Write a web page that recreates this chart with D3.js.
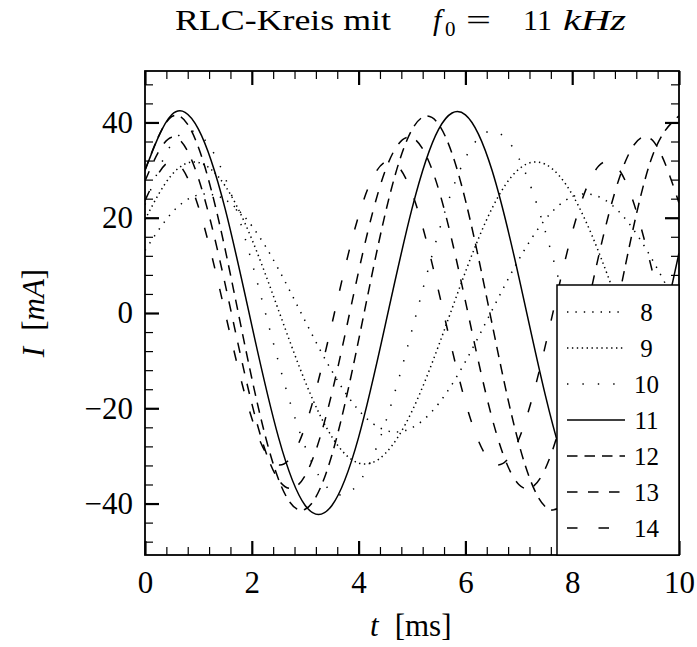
<!DOCTYPE html>
<html>
<head>
<meta charset="utf-8">
<script src="https://cdn.jsdelivr.net/npm/d3@7"></script>
<style>
  body { margin: 0; background: #fff; }
  text { font-family: "Liberation Serif", "DejaVu Serif", serif; fill: #000; }
</style>
</head>
<body>
<div id="chart"></div>
<script>
// time axis in ms, currents in mA
const tValues = [0, 0.5, 1, 1.5, 2, 2.5, 3, 3.5, 4, 4.5, 5, 5.5, 6, 6.5, 7, 7.5, 8, 8.5, 9, 9.5, 10];
const freqs = [8, 9, 10, 11, 12, 13, 14];

const current8 = [13.1, 21.0, 24.8, 23.8, 18.3, 9.2, -1.7, -12.2, -20.4, -24.6, -24.1, -19.0, -10.2, 0.6, 11.2, 19.7, 24.4, 24.4, 19.7, 11.2, 0.6];
const current9 = [19.6, 29.0, 31.6, 26.7, 15.5, 0.6, -14.4, -26.0, -31.5, -29.5, -20.6, -6.8, 8.6, 22.0, 30.2, 31.2, 24.9, 12.7, -2.5, -17.1, -27.7];
const current10 = [22.7, 35.5, 37.6, 28.4, 10.7, -10.3, -28.1, -37.5, -35.7, -23.1, -3.6, 17.0, 32.5, 38.2, 32.5, 17.0, -3.6, -23.1, -35.7, -37.5, -28.1];
const current11 = [29.9, 41.6, 38.6, 21.9, -2.6, -26.1, -40.4, -40.4, -26.1, -2.5, 21.9, 38.6, 41.6, 29.9, 7.6, -17.4, -36.2, -42.2, -33.3, -12.6, 12.6];
const current12 = [30.0, 41.2, 34.8, 13.4, -13.7, -34.9, -41.2, -29.8, -5.7, 20.9, 38.5, 39.6, 23.7, -2.3, -27.4, -40.7, -36.6, -16.8, 10.2, 32.9, 41.4];
const current13 = [27.7, 36.9, 28.3, 6.1, -19.0, -35.0, -34.1, -16.8, 8.7, 29.9, 36.8, 25.9, 2.5, -22.1, -36.0, -32.6, -13.4, 12.2, 31.9, 36.3, 23.1];
const current14 = [23.6, 31.9, 22.3, 0.1, -22.1, -31.9, -23.8, -2.3, 20.4, 31.7, 25.2, 4.5, -18.7, -31.4, -26.5, -6.7, 16.9, 30.9, 27.6, 8.8, -14.9];

const xTicks = [0, 2, 4, 6, 8, 10];
const yTicks = [-40, -20, 0, 20, 40];

// line styles (tikz: dotted, densely dotted, loosely dotted, solid, densely dashed, dashed, loosely dashed)
const dashes = {
  8: "1.4,7",
  9: "1.4,3.5",
  10: "1.4,14",
  11: null,
  12: "10.5,7",
  13: "10.5,10.5",
  14: "10.5,21"
};

const width = 697, height = 647;
const margin = { top: 71, right: 18, bottom: 92, left: 145 };

const svg = d3.select("#chart")
  .append("svg")
  .attr("width", width)
  .attr("height", height);

const x = d3.scaleLinear().domain([0, 10]).range([margin.left, width - margin.right]);
const y = d3.scaleLinear().domain([-50.8, 50.8]).range([height - margin.bottom, margin.top]);

svg.append("clipPath").attr("id", "plot")
  .append("rect")
  .attr("x", x(0)).attr("y", y(50.8))
  .attr("width", x(10) - x(0)).attr("height", y(-50.8) - y(50.8));

const series = [current8, current9, current10, current11, current12, current13, current14]
  .map((values, i) => ({ f: freqs[i], values: values }));

const line = d3.line()
  .x((d, i) => x(tValues[i]))
  .y(d => y(d))
  .curve(d3.curveNatural);

svg.append("g")
  .attr("clip-path", "url(#plot)")
  .selectAll("path")
  .data(series)
  .enter()
  .append("path")
  .attr("d", d => line(d.values))
  .attr("fill", "none")
  .attr("stroke", "#000")
  .attr("stroke-width", 1.5)
  .attr("stroke-dasharray", d => dashes[d.f]);

// ticks on all four sides, pointing inwards
const xMinor = d3.range(0, 26).filter(i => i % 5 !== 0).map(i => i * 0.4);
const yMinor = d3.range(-12, 13).filter(i => i % 5 !== 0).map(i => i * 4);

function tickGroup(axis, tx, ty, strokeW) {
  const g = svg.append("g")
    .attr("transform", `translate(${tx},${ty})`)
    .call(axis);
  g.select(".domain").remove();
  g.selectAll("line").attr("stroke", "#000").attr("stroke-width", strokeW);
  return g;
}

const bottomY = y(-50.8), topY = y(50.8), leftX = x(0), rightX = x(10);

tickGroup(d3.axisBottom(x).tickValues(xMinor).tickSize(-8).tickFormat(""), 0, bottomY, 1.2);
tickGroup(d3.axisTop(x).tickValues(xMinor).tickSize(-8).tickFormat(""), 0, topY, 1.2);
tickGroup(d3.axisLeft(y).tickValues(yMinor).tickSize(-8).tickFormat(""), leftX, 0, 1.2);
tickGroup(d3.axisRight(y).tickValues(yMinor).tickSize(-8).tickFormat(""), rightX, 0, 1.2);

const xAxis = tickGroup(d3.axisBottom(x).tickValues(xTicks).tickSize(-14).tickPadding(16).tickFormat(d3.format("d")), 0, bottomY, 2.2);
tickGroup(d3.axisTop(x).tickValues(xTicks).tickSize(-14).tickFormat(""), 0, topY, 2.2);
const yAxis = tickGroup(d3.axisLeft(y).tickValues(yTicks).tickSize(-14).tickPadding(12).tickFormat(d3.format("d")), leftX, 0, 2.2);
tickGroup(d3.axisRight(y).tickValues(yTicks).tickSize(-14).tickFormat(""), rightX, 0, 2.2);

xAxis.selectAll("text").attr("font-size", 31).attr("font-family", null);
yAxis.selectAll("text").attr("font-size", 31).attr("font-family", null);

svg.append("rect")
  .attr("x", leftX).attr("y", topY)
  .attr("width", rightX - leftX).attr("height", bottomY - topY)
  .attr("fill", "none")
  .attr("stroke", "#000")
  .attr("stroke-width", 1.8);

// legend box in the lower right corner
const legend = svg.append("g");
legend.append("rect")
  .attr("x", 557).attr("y", 285)
  .attr("width", rightX - 557).attr("height", bottomY - 285)
  .attr("fill", "#fff")
  .attr("stroke", "#000")
  .attr("stroke-width", 1.5);

const items = legend.selectAll("g.item")
  .data(series)
  .enter()
  .append("g")
  .attr("class", "item")
  .attr("transform", (d, i) => `translate(0,${312 + i * 36})`);

items.append("line")
  .attr("x1", 567).attr("x2", 625)
  .attr("stroke", "#000")
  .attr("stroke-width", 1.5)
  .attr("stroke-dasharray", d => dashes[d.f]);

items.append("text")
  .attr("x", 646.5)
  .attr("dy", "0.35em")
  .attr("text-anchor", "middle")
  .attr("font-size", 25)
  .text(d => d.f);

// title
const title = svg.append("g").attr("font-size", 30);
title.append("text").attr("x", 175).attr("y", 30)
  .attr("textLength", 216).attr("lengthAdjust", "spacingAndGlyphs")
  .text("RLC-Kreis mit");
title.append("text").attr("x", 433).attr("y", 30).attr("font-style", "italic").text("f");
title.append("text").attr("x", 445).attr("y", 36).attr("font-size", 21).text("0");
title.append("text").attr("x", 466).attr("y", 30).attr("textLength", 25).attr("lengthAdjust", "spacingAndGlyphs").text("=");
title.append("text").attr("x", 523).attr("y", 30).text("11");
title.append("text").attr("x", 563).attr("y", 30).attr("font-style", "italic")
  .attr("textLength", 63).attr("lengthAdjust", "spacingAndGlyphs").text("kHz");

// axis labels
const xLabel = svg.append("text")
  .attr("x", 370).attr("y", 636)
  .attr("font-size", 31);
xLabel.append("tspan").attr("font-style", "italic").text("t");
xLabel.append("tspan").attr("dx", 16).text("[ms]");

const yLabel = svg.append("text")
  .attr("transform", "translate(44,313) rotate(-90)")
  .attr("text-anchor", "middle")
  .attr("font-size", 31);
yLabel.append("tspan").attr("font-style", "italic").text("I");
yLabel.append("tspan").attr("dx", 16).text("[");
yLabel.append("tspan").attr("font-style", "italic").text("mA");
yLabel.append("tspan").text("]");
</script>
</body>
</html>
